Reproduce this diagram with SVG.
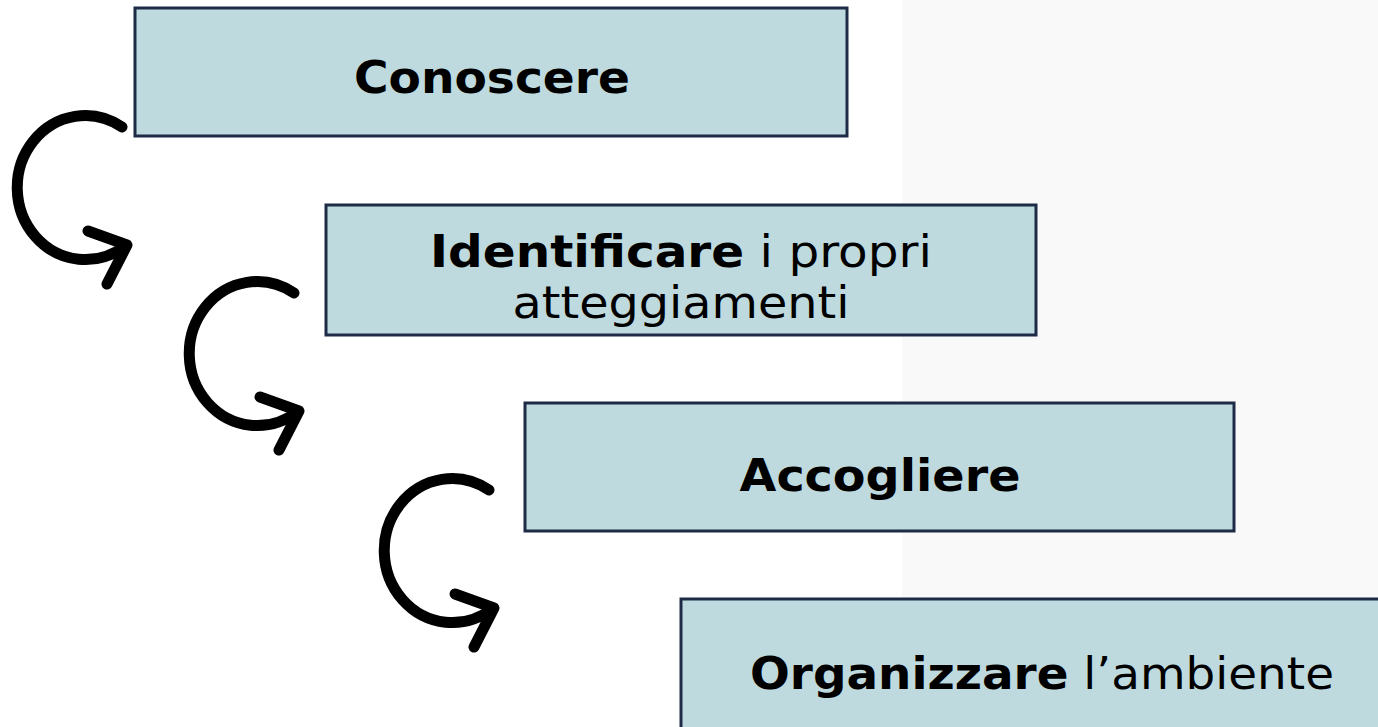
<svg xmlns="http://www.w3.org/2000/svg" xmlns:xlink="http://www.w3.org/1999/xlink" width="1378" height="727" viewBox="0 0 1378 727">
<style>
.box{fill:#bedadf;stroke:#1e2b47;stroke-width:3}
.t{font-family:"DejaVu Sans",Verdana,sans-serif;font-size:45px;fill:#000}
.b{font-weight:bold}
.arr{fill:none;stroke:#000;stroke-width:11;stroke-linecap:round;stroke-linejoin:round}
</style>
<defs>
<g id="arrow">
<path d="M122,127 A68,72 0 1,0 125,246"/>
<path d="M88,231 L127,245 L107,284"/>
</g>
</defs>
<rect x="0" y="0" width="1378" height="727" fill="#ffffff"/>
<rect x="902" y="0" width="476" height="727" fill="#f9f9f9"/>
<g id="connectors" class="arr">
<use xlink:href="#arrow"/>
<use xlink:href="#arrow" transform="translate(172,166)"/>
<use xlink:href="#arrow" transform="translate(367,363)"/>
</g>
<g id="node1">
<rect class="box" x="135" y="8" width="712" height="128"/>
<text class="t b" x="492" y="93" text-anchor="middle" textLength="276" lengthAdjust="spacingAndGlyphs">Conoscere</text>
</g>
<g id="node2">
<rect class="box" x="326" y="205" width="710" height="130"/>
<text class="t" x="681" y="267" text-anchor="middle" textLength="502" lengthAdjust="spacingAndGlyphs"><tspan class="b">Identificare</tspan> i propri</text>
<text class="t" x="681" y="318" text-anchor="middle" textLength="337" lengthAdjust="spacingAndGlyphs">atteggiamenti</text>
</g>
<g id="node3">
<rect class="box" x="525" y="403" width="709" height="128"/>
<text class="t b" x="880" y="491" text-anchor="middle" textLength="281" lengthAdjust="spacingAndGlyphs">Accogliere</text>
</g>
<g id="node4">
<rect class="box" x="681" y="599" width="720" height="140"/>
<text class="t" x="1042" y="689" text-anchor="middle" textLength="584" lengthAdjust="spacingAndGlyphs"><tspan class="b">Organizzare</tspan> l’ambiente</text>
</g>
</svg>
